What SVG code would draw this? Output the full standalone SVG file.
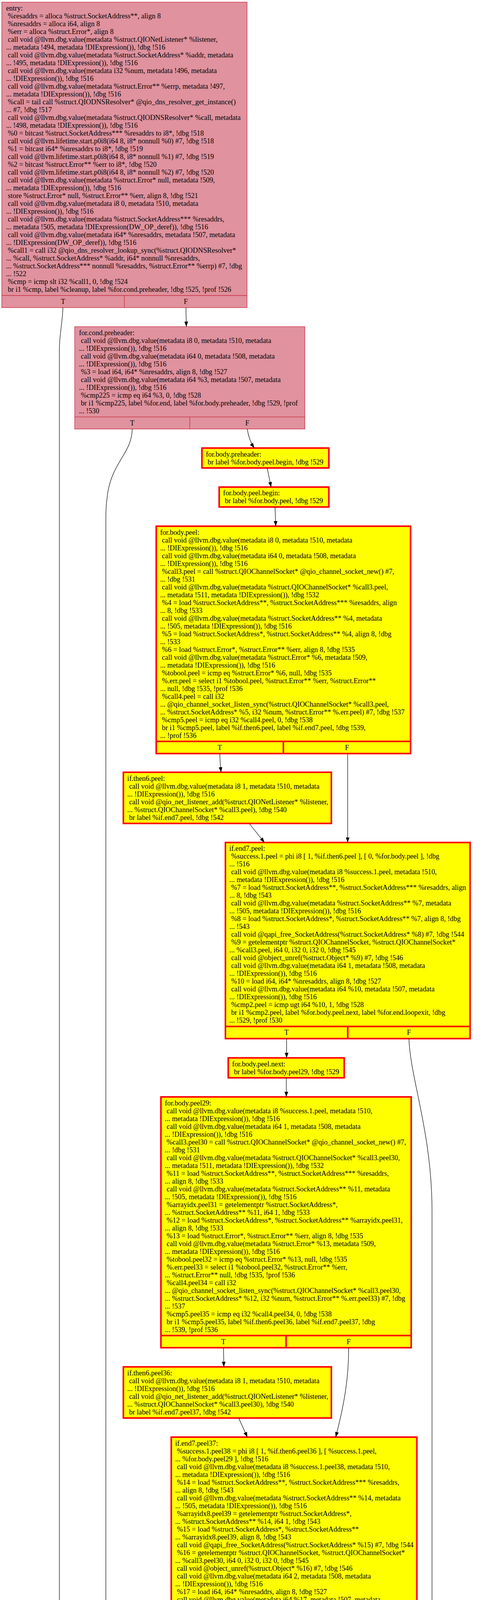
<svg xmlns="http://www.w3.org/2000/svg" width="1257" height="7149" viewBox="0 0 1257 7149">
<defs>
<style>
.t{font-family:"Liberation Serif","Times New Roman",serif;font-size:18.3px;fill:#000}
.c{text-anchor:middle}
.pk{fill:#e0929e;stroke:#c8283e;stroke-width:1.3}
.yl{fill:#ffff00;stroke:#ff0000;stroke-width:4}
.wh{fill:#ffffff;stroke:#ff0000;stroke-width:4}
.pl{stroke:#c8283e;stroke-width:1.3;fill:none}
.yln{stroke:#ff0000;stroke-width:4;fill:none}
.e{fill:none;stroke:#000;stroke-width:1.2;marker-end:url(#ah)}
</style>
<marker id="ah" markerUnits="userSpaceOnUse" markerWidth="14" markerHeight="10" refX="13" refY="4.75" orient="auto" viewBox="0 0 14 9.5"><path d="M0,0 L13,4.75 L0,9.5 z" fill="#000"/></marker>
</defs>
<rect x="0" y="0" width="1257" height="7149" fill="#ffffff"/>

<g id="node-entry">
<rect class="pk" x="4.5" y="5.5" width="628" height="782"/>
<path class="pl" d="M4.5,756.5 H632.5 M318.5,756.5 V787.5"/>
<text class="t">
<tspan x="15.5" y="27">entry:</tspan>
<tspan x="20.1" y="47">%resaddrs = alloca %struct.SocketAddress**, align 8</tspan>
<tspan x="20.1" y="67">%nresaddrs = alloca i64, align 8</tspan>
<tspan x="20.1" y="87">%err = alloca %struct.Error*, align 8</tspan>
<tspan x="20.1" y="107">call void @llvm.dbg.value(metadata %struct.QIONetListener* %listener,</tspan>
<tspan x="15.5" y="127">... metadata !494, metadata !DIExpression()), !dbg !516</tspan>
<tspan x="20.1" y="147">call void @llvm.dbg.value(metadata %struct.SocketAddress* %addr, metadata</tspan>
<tspan x="15.5" y="167">... !495, metadata !DIExpression()), !dbg !516</tspan>
<tspan x="20.1" y="187">call void @llvm.dbg.value(metadata i32 %num, metadata !496, metadata</tspan>
<tspan x="15.5" y="207">... !DIExpression()), !dbg !516</tspan>
<tspan x="20.1" y="227">call void @llvm.dbg.value(metadata %struct.Error** %errp, metadata !497,</tspan>
<tspan x="15.5" y="247">... metadata !DIExpression()), !dbg !516</tspan>
<tspan x="20.1" y="267">%call = tail call %struct.QIODNSResolver* @qio_dns_resolver_get_instance()</tspan>
<tspan x="15.5" y="287">... #7, !dbg !517</tspan>
<tspan x="20.1" y="307">call void @llvm.dbg.value(metadata %struct.QIODNSResolver* %call, metadata</tspan>
<tspan x="15.5" y="327">... !498, metadata !DIExpression()), !dbg !516</tspan>
<tspan x="20.1" y="347">%0 = bitcast %struct.SocketAddress*** %resaddrs to i8*, !dbg !518</tspan>
<tspan x="20.1" y="367">call void @llvm.lifetime.start.p0i8(i64 8, i8* nonnull %0) #7, !dbg !518</tspan>
<tspan x="20.1" y="387">%1 = bitcast i64* %nresaddrs to i8*, !dbg !519</tspan>
<tspan x="20.1" y="407">call void @llvm.lifetime.start.p0i8(i64 8, i8* nonnull %1) #7, !dbg !519</tspan>
<tspan x="20.1" y="427">%2 = bitcast %struct.Error** %err to i8*, !dbg !520</tspan>
<tspan x="20.1" y="447">call void @llvm.lifetime.start.p0i8(i64 8, i8* nonnull %2) #7, !dbg !520</tspan>
<tspan x="20.1" y="467">call void @llvm.dbg.value(metadata %struct.Error* null, metadata !509,</tspan>
<tspan x="15.5" y="487">... metadata !DIExpression()), !dbg !516</tspan>
<tspan x="20.1" y="507">store %struct.Error* null, %struct.Error** %err, align 8, !dbg !521</tspan>
<tspan x="20.1" y="527">call void @llvm.dbg.value(metadata i8 0, metadata !510, metadata</tspan>
<tspan x="15.5" y="547">... !DIExpression()), !dbg !516</tspan>
<tspan x="20.1" y="567">call void @llvm.dbg.value(metadata %struct.SocketAddress*** %resaddrs,</tspan>
<tspan x="15.5" y="587">... metadata !505, metadata !DIExpression(DW_OP_deref)), !dbg !516</tspan>
<tspan x="20.1" y="607">call void @llvm.dbg.value(metadata i64* %nresaddrs, metadata !507, metadata</tspan>
<tspan x="15.5" y="627">... !DIExpression(DW_OP_deref)), !dbg !516</tspan>
<tspan x="20.1" y="647">%call1 = call i32 @qio_dns_resolver_lookup_sync(%struct.QIODNSResolver*</tspan>
<tspan x="15.5" y="667">... %call, %struct.SocketAddress* %addr, i64* nonnull %nresaddrs,</tspan>
<tspan x="15.5" y="687">... %struct.SocketAddress*** nonnull %resaddrs, %struct.Error** %errp) #7, !dbg</tspan>
<tspan x="15.5" y="707">... !522</tspan>
<tspan x="20.1" y="727">%cmp = icmp slt i32 %call1, 0, !dbg !524</tspan>
<tspan x="20.1" y="747">br i1 %cmp, label %cleanup, label %for.cond.preheader, !dbg !525, !prof !526</tspan>
</text>
<text class="t c" x="161.5" y="778">T</text>
<text class="t c" x="475.5" y="778">F</text>
</g>

<g id="node-for.cond.preheader">
<rect class="pk" x="191.3" y="836.3" width="589.1" height="262"/>
<path class="pl" d="M191.3,1067.3 H780.4 M485.9,1067.3 V1098.3"/>
<text class="t">
<tspan x="202.3" y="857.8">for.cond.preheader:</tspan>
<tspan x="206.9" y="877.8">call void @llvm.dbg.value(metadata i8 0, metadata !510, metadata</tspan>
<tspan x="202.3" y="897.8">... !DIExpression()), !dbg !516</tspan>
<tspan x="206.9" y="917.8">call void @llvm.dbg.value(metadata i64 0, metadata !508, metadata</tspan>
<tspan x="202.3" y="937.8">... !DIExpression()), !dbg !516</tspan>
<tspan x="206.9" y="957.8">%3 = load i64, i64* %nresaddrs, align 8, !dbg !527</tspan>
<tspan x="206.9" y="977.8">call void @llvm.dbg.value(metadata i64 %3, metadata !507, metadata</tspan>
<tspan x="202.3" y="997.8">... !DIExpression()), !dbg !516</tspan>
<tspan x="206.9" y="1017.8">%cmp225 = icmp eq i64 %3, 0, !dbg !528</tspan>
<tspan x="206.9" y="1037.8">br i1 %cmp225, label %for.end, label %for.body.preheader, !dbg !529, !prof</tspan>
<tspan x="202.3" y="1057.8">... !530</tspan>
</text>
<text class="t c" x="338.6" y="1088.8">T</text>
<text class="t c" x="633.2" y="1088.8">F</text>
</g>

<g id="node-for.body.preheader">
<rect class="yl" x="517" y="1147" width="324.9" height="51"/>
<text class="t">
<tspan x="527" y="1168.5">for.body.preheader:</tspan>
<tspan x="531.6" y="1188.5">br label %for.body.peel.begin, !dbg !529</tspan>
</text>
</g>

<g id="node-for.body.peel.begin">
<rect class="yl" x="561.1" y="1246.9" width="280.8" height="51"/>
<text class="t">
<tspan x="571.1" y="1268.4">for.body.peel.begin:</tspan>
<tspan x="575.7" y="1288.4">br label %for.body.peel, !dbg !529</tspan>
</text>
</g>

<g id="node-for.body.peel">
<rect class="yl" x="399.9" y="1347.1" width="651.2" height="582"/>
<path class="yln" d="M399.9,1898.1 H1051.1 M725.5,1898.1 V1929.1"/>
<text class="t">
<tspan x="409.9" y="1368.6">for.body.peel:</tspan>
<tspan x="414.5" y="1388.6">call void @llvm.dbg.value(metadata i8 0, metadata !510, metadata</tspan>
<tspan x="409.9" y="1408.6">... !DIExpression()), !dbg !516</tspan>
<tspan x="414.5" y="1428.6">call void @llvm.dbg.value(metadata i64 0, metadata !508, metadata</tspan>
<tspan x="409.9" y="1448.6">... !DIExpression()), !dbg !516</tspan>
<tspan x="414.5" y="1468.6">%call3.peel = call %struct.QIOChannelSocket* @qio_channel_socket_new() #7,</tspan>
<tspan x="409.9" y="1488.6">... !dbg !531</tspan>
<tspan x="414.5" y="1508.6">call void @llvm.dbg.value(metadata %struct.QIOChannelSocket* %call3.peel,</tspan>
<tspan x="409.9" y="1528.6">... metadata !511, metadata !DIExpression()), !dbg !532</tspan>
<tspan x="414.5" y="1548.6">%4 = load %struct.SocketAddress**, %struct.SocketAddress*** %resaddrs, align</tspan>
<tspan x="409.9" y="1568.6">... 8, !dbg !533</tspan>
<tspan x="414.5" y="1588.6">call void @llvm.dbg.value(metadata %struct.SocketAddress** %4, metadata</tspan>
<tspan x="409.9" y="1608.6">... !505, metadata !DIExpression()), !dbg !516</tspan>
<tspan x="414.5" y="1628.6">%5 = load %struct.SocketAddress*, %struct.SocketAddress** %4, align 8, !dbg</tspan>
<tspan x="409.9" y="1648.6">... !533</tspan>
<tspan x="414.5" y="1668.6">%6 = load %struct.Error*, %struct.Error** %err, align 8, !dbg !535</tspan>
<tspan x="414.5" y="1688.6">call void @llvm.dbg.value(metadata %struct.Error* %6, metadata !509,</tspan>
<tspan x="409.9" y="1708.6">... metadata !DIExpression()), !dbg !516</tspan>
<tspan x="414.5" y="1728.6">%tobool.peel = icmp eq %struct.Error* %6, null, !dbg !535</tspan>
<tspan x="414.5" y="1748.6">%.err.peel = select i1 %tobool.peel, %struct.Error** %err, %struct.Error**</tspan>
<tspan x="409.9" y="1768.6">... null, !dbg !535, !prof !536</tspan>
<tspan x="414.5" y="1788.6">%call4.peel = call i32</tspan>
<tspan x="409.9" y="1808.6">... @qio_channel_socket_listen_sync(%struct.QIOChannelSocket* %call3.peel,</tspan>
<tspan x="409.9" y="1828.6">... %struct.SocketAddress* %5, i32 %num, %struct.Error** %.err.peel) #7, !dbg !537</tspan>
<tspan x="414.5" y="1848.6">%cmp5.peel = icmp eq i32 %call4.peel, 0, !dbg !538</tspan>
<tspan x="414.5" y="1868.6">br i1 %cmp5.peel, label %if.then6.peel, label %if.end7.peel, !dbg !539,</tspan>
<tspan x="409.9" y="1888.6">... !prof !536</tspan>
</text>
<text class="t c" x="562.7" y="1919.6">T</text>
<text class="t c" x="888.3" y="1919.6">F</text>
</g>

<g id="node-if.then6.peel">
<rect class="yl" x="315.8" y="1977" width="532.5" height="131"/>
<text class="t">
<tspan x="325.8" y="1998.5">if.then6.peel:</tspan>
<tspan x="330.4" y="2018.5">call void @llvm.dbg.value(metadata i8 1, metadata !510, metadata</tspan>
<tspan x="325.8" y="2038.5">... !DIExpression()), !dbg !516</tspan>
<tspan x="330.4" y="2058.5">call void @qio_net_listener_add(%struct.QIONetListener* %listener,</tspan>
<tspan x="325.8" y="2078.5">... %struct.QIOChannelSocket* %call3.peel), !dbg !540</tspan>
<tspan x="330.4" y="2098.5">br label %if.end7.peel, !dbg !542</tspan>
</text>
</g>

<g id="node-if.end7.peel">
<rect class="yl" x="577.1" y="2156.8" width="626.4" height="502"/>
<path class="yln" d="M577.1,2627.8 H1203.5 M890.3,2627.8 V2658.8"/>
<text class="t">
<tspan x="587.1" y="2178.3">if.end7.peel:</tspan>
<tspan x="591.7" y="2198.3">%success.1.peel = phi i8 [ 1, %if.then6.peel ], [ 0, %for.body.peel ], !dbg</tspan>
<tspan x="587.1" y="2218.3">... !516</tspan>
<tspan x="591.7" y="2238.3">call void @llvm.dbg.value(metadata i8 %success.1.peel, metadata !510,</tspan>
<tspan x="587.1" y="2258.3">... metadata !DIExpression()), !dbg !516</tspan>
<tspan x="591.7" y="2278.3">%7 = load %struct.SocketAddress**, %struct.SocketAddress*** %resaddrs, align</tspan>
<tspan x="587.1" y="2298.3">... 8, !dbg !543</tspan>
<tspan x="591.7" y="2318.3">call void @llvm.dbg.value(metadata %struct.SocketAddress** %7, metadata</tspan>
<tspan x="587.1" y="2338.3">... !505, metadata !DIExpression()), !dbg !516</tspan>
<tspan x="591.7" y="2358.3">%8 = load %struct.SocketAddress*, %struct.SocketAddress** %7, align 8, !dbg</tspan>
<tspan x="587.1" y="2378.3">... !543</tspan>
<tspan x="591.7" y="2398.3">call void @qapi_free_SocketAddress(%struct.SocketAddress* %8) #7, !dbg !544</tspan>
<tspan x="591.7" y="2418.3">%9 = getelementptr %struct.QIOChannelSocket, %struct.QIOChannelSocket*</tspan>
<tspan x="587.1" y="2438.3">... %call3.peel, i64 0, i32 0, i32 0, !dbg !545</tspan>
<tspan x="591.7" y="2458.3">call void @object_unref(%struct.Object* %9) #7, !dbg !546</tspan>
<tspan x="591.7" y="2478.3">call void @llvm.dbg.value(metadata i64 1, metadata !508, metadata</tspan>
<tspan x="587.1" y="2498.3">... !DIExpression()), !dbg !516</tspan>
<tspan x="591.7" y="2518.3">%10 = load i64, i64* %nresaddrs, align 8, !dbg !527</tspan>
<tspan x="591.7" y="2538.3">call void @llvm.dbg.value(metadata i64 %10, metadata !507, metadata</tspan>
<tspan x="587.1" y="2558.3">... !DIExpression()), !dbg !516</tspan>
<tspan x="591.7" y="2578.3">%cmp2.peel = icmp ugt i64 %10, 1, !dbg !528</tspan>
<tspan x="591.7" y="2598.3">br i1 %cmp2.peel, label %for.body.peel.next, label %for.end.loopexit, !dbg</tspan>
<tspan x="587.1" y="2618.3">... !529, !prof !530</tspan>
</text>
<text class="t c" x="733.7" y="2649.3">T</text>
<text class="t c" x="1046.9" y="2649.3">F</text>
</g>

<g id="node-for.body.peel.next">
<rect class="yl" x="584.3" y="2708.2" width="296.9" height="51"/>
<text class="t">
<tspan x="594.3" y="2729.7">for.body.peel.next:</tspan>
<tspan x="598.9" y="2749.7">br label %for.body.peel29, !dbg !529</tspan>
</text>
</g>

<g id="node-for.body.peel29">
<rect class="yl" x="412" y="2808.1" width="640.7" height="642"/>
<path class="yln" d="M412,3419.1 H1052.7 M732.4,3419.1 V3450.1"/>
<text class="t">
<tspan x="422" y="2829.6">for.body.peel29:</tspan>
<tspan x="426.6" y="2849.6">call void @llvm.dbg.value(metadata i8 %success.1.peel, metadata !510,</tspan>
<tspan x="422" y="2869.6">... metadata !DIExpression()), !dbg !516</tspan>
<tspan x="426.6" y="2889.6">call void @llvm.dbg.value(metadata i64 1, metadata !508, metadata</tspan>
<tspan x="422" y="2909.6">... !DIExpression()), !dbg !516</tspan>
<tspan x="426.6" y="2929.6">%call3.peel30 = call %struct.QIOChannelSocket* @qio_channel_socket_new() #7,</tspan>
<tspan x="422" y="2949.6">... !dbg !531</tspan>
<tspan x="426.6" y="2969.6">call void @llvm.dbg.value(metadata %struct.QIOChannelSocket* %call3.peel30,</tspan>
<tspan x="422" y="2989.6">... metadata !511, metadata !DIExpression()), !dbg !532</tspan>
<tspan x="426.6" y="3009.6">%11 = load %struct.SocketAddress**, %struct.SocketAddress*** %resaddrs,</tspan>
<tspan x="422" y="3029.6">... align 8, !dbg !533</tspan>
<tspan x="426.6" y="3049.6">call void @llvm.dbg.value(metadata %struct.SocketAddress** %11, metadata</tspan>
<tspan x="422" y="3069.6">... !505, metadata !DIExpression()), !dbg !516</tspan>
<tspan x="426.6" y="3089.6">%arrayidx.peel31 = getelementptr %struct.SocketAddress*,</tspan>
<tspan x="422" y="3109.6">... %struct.SocketAddress** %11, i64 1, !dbg !533</tspan>
<tspan x="426.6" y="3129.6">%12 = load %struct.SocketAddress*, %struct.SocketAddress** %arrayidx.peel31,</tspan>
<tspan x="422" y="3149.6">... align 8, !dbg !533</tspan>
<tspan x="426.6" y="3169.6">%13 = load %struct.Error*, %struct.Error** %err, align 8, !dbg !535</tspan>
<tspan x="426.6" y="3189.6">call void @llvm.dbg.value(metadata %struct.Error* %13, metadata !509,</tspan>
<tspan x="422" y="3209.6">... metadata !DIExpression()), !dbg !516</tspan>
<tspan x="426.6" y="3229.6">%tobool.peel32 = icmp eq %struct.Error* %13, null, !dbg !535</tspan>
<tspan x="426.6" y="3249.6">%.err.peel33 = select i1 %tobool.peel32, %struct.Error** %err,</tspan>
<tspan x="422" y="3269.6">... %struct.Error** null, !dbg !535, !prof !536</tspan>
<tspan x="426.6" y="3289.6">%call4.peel34 = call i32</tspan>
<tspan x="422" y="3309.6">... @qio_channel_socket_listen_sync(%struct.QIOChannelSocket* %call3.peel30,</tspan>
<tspan x="422" y="3329.6">... %struct.SocketAddress* %12, i32 %num, %struct.Error** %.err.peel33) #7, !dbg</tspan>
<tspan x="422" y="3349.6">... !537</tspan>
<tspan x="426.6" y="3369.6">%cmp5.peel35 = icmp eq i32 %call4.peel34, 0, !dbg !538</tspan>
<tspan x="426.6" y="3389.6">br i1 %cmp5.peel35, label %if.then6.peel36, label %if.end7.peel37, !dbg</tspan>
<tspan x="422" y="3409.6">... !539, !prof !536</tspan>
</text>
<text class="t c" x="572.2" y="3440.6">T</text>
<text class="t c" x="892.5" y="3440.6">F</text>
</g>

<g id="node-if.then6.peel36">
<rect class="yl" x="315.8" y="3499.2" width="532.5" height="131"/>
<text class="t">
<tspan x="325.8" y="3520.7">if.then6.peel36:</tspan>
<tspan x="330.4" y="3540.7">call void @llvm.dbg.value(metadata i8 1, metadata !510, metadata</tspan>
<tspan x="325.8" y="3560.7">... !DIExpression()), !dbg !516</tspan>
<tspan x="330.4" y="3580.7">call void @qio_net_listener_add(%struct.QIONetListener* %listener,</tspan>
<tspan x="325.8" y="3600.7">... %struct.QIOChannelSocket* %call3.peel30), !dbg !540</tspan>
<tspan x="330.4" y="3620.7">br label %if.end7.peel37, !dbg !542</tspan>
</text>
</g>

<g id="node-if.end7.peel37">
<rect class="yl" x="438.4" y="3679" width="628.8" height="542"/>
<path class="yln" d="M438.4,4190 H1067.2 M752.8,4190 V4221"/>
<text class="t">
<tspan x="448.4" y="3700.5">if.end7.peel37:</tspan>
<tspan x="453" y="3720.5">%success.1.peel38 = phi i8 [ 1, %if.then6.peel36 ], [ %success.1.peel,</tspan>
<tspan x="448.4" y="3740.5">... %for.body.peel29 ], !dbg !516</tspan>
<tspan x="453" y="3760.5">call void @llvm.dbg.value(metadata i8 %success.1.peel38, metadata !510,</tspan>
<tspan x="448.4" y="3780.5">... metadata !DIExpression()), !dbg !516</tspan>
<tspan x="453" y="3800.5">%14 = load %struct.SocketAddress**, %struct.SocketAddress*** %resaddrs,</tspan>
<tspan x="448.4" y="3820.5">... align 8, !dbg !543</tspan>
<tspan x="453" y="3840.5">call void @llvm.dbg.value(metadata %struct.SocketAddress** %14, metadata</tspan>
<tspan x="448.4" y="3860.5">... !505, metadata !DIExpression()), !dbg !516</tspan>
<tspan x="453" y="3880.5">%arrayidx8.peel39 = getelementptr %struct.SocketAddress*,</tspan>
<tspan x="448.4" y="3900.5">... %struct.SocketAddress** %14, i64 1, !dbg !543</tspan>
<tspan x="453" y="3920.5">%15 = load %struct.SocketAddress*, %struct.SocketAddress**</tspan>
<tspan x="448.4" y="3940.5">... %arrayidx8.peel39, align 8, !dbg !543</tspan>
<tspan x="453" y="3960.5">call void @qapi_free_SocketAddress(%struct.SocketAddress* %15) #7, !dbg !544</tspan>
<tspan x="453" y="3980.5">%16 = getelementptr %struct.QIOChannelSocket, %struct.QIOChannelSocket*</tspan>
<tspan x="448.4" y="4000.5">... %call3.peel30, i64 0, i32 0, i32 0, !dbg !545</tspan>
<tspan x="453" y="4020.5">call void @object_unref(%struct.Object* %16) #7, !dbg !546</tspan>
<tspan x="453" y="4040.5">call void @llvm.dbg.value(metadata i64 2, metadata !508, metadata</tspan>
<tspan x="448.4" y="4060.5">... !DIExpression()), !dbg !516</tspan>
<tspan x="453" y="4080.5">%17 = load i64, i64* %nresaddrs, align 8, !dbg !527</tspan>
<tspan x="453" y="4100.5">call void @llvm.dbg.value(metadata i64 %17, metadata !507, metadata</tspan>
<tspan x="448.4" y="4120.5">... !DIExpression()), !dbg !516</tspan>
<tspan x="453" y="4140.5">%cmp2.peel41 = icmp ugt i64 %17, 2, !dbg !528</tspan>
<tspan x="453" y="4160.5">br i1 %cmp2.peel41, label %for.body.peel.next28, label %for.end.loopexit,</tspan>
<tspan x="448.4" y="4180.5">... !dbg !529, !prof !530</tspan>
</text>
<text class="t c" x="595.6" y="4211.5">T</text>
<text class="t c" x="910" y="4211.5">F</text>
</g>

<g id="node-for.body.peel.next28">
<rect class="yl" x="456.1" y="4269.1" width="332.9" height="51"/>
<text class="t">
<tspan x="466.1" y="4290.6">for.body.peel.next28:</tspan>
<tspan x="470.7" y="4310.6">br label %for.body.peel.next42, !dbg !529</tspan>
</text>
</g>

<g id="node-for.body.peel.next42">
<rect class="yl" x="424" y="4369.7" width="409.1" height="51"/>
<text class="t">
<tspan x="434" y="4391.2">for.body.peel.next42:</tspan>
<tspan x="438.6" y="4411.2">br label %for.body.preheader.peel.newph, !dbg !529</tspan>
</text>
</g>

<g id="node-for.body.preheader.peel.newph">
<rect class="yl" x="517.8" y="4469.6" width="255.9" height="51"/>
<text class="t">
<tspan x="527.8" y="4491.1">for.body.preheader.peel.newph:</tspan>
<tspan x="532.4" y="4511.1">br label %for.body, !dbg !529</tspan>
</text>
</g>

<g id="node-for.body">
<rect class="yl" x="339" y="4569.1" width="648.8" height="662"/>
<path class="yln" d="M339,5200.1 H987.8 M663.4,5200.1 V5231.1"/>
<text class="t">
<tspan x="349" y="4590.6">for.body:</tspan>
<tspan x="353.6" y="4610.6">%success.027 = phi i8 [ %success.1, %if.end7 ], [ %success.1.peel38,</tspan>
<tspan x="349" y="4630.6">... %for.body.preheader.peel.newph ]</tspan>
<tspan x="353.6" y="4650.6">%i.026 = phi i64 [ %inc, %if.end7 ], [ 2, %for.body.preheader.peel.newph ]</tspan>
<tspan x="353.6" y="4670.6">call void @llvm.dbg.value(metadata i8 %success.027, metadata !510, metadata</tspan>
<tspan x="349" y="4690.6">... !DIExpression()), !dbg !516</tspan>
<tspan x="353.6" y="4710.6">call void @llvm.dbg.value(metadata i64 %i.026, metadata !508, metadata</tspan>
<tspan x="349" y="4730.6">... !DIExpression()), !dbg !516</tspan>
<tspan x="353.6" y="4750.6">%call3 = call %struct.QIOChannelSocket* @qio_channel_socket_new() #7, !dbg</tspan>
<tspan x="349" y="4770.6">... !531</tspan>
<tspan x="353.6" y="4790.6">call void @llvm.dbg.value(metadata %struct.QIOChannelSocket* %call3,</tspan>
<tspan x="349" y="4810.6">... metadata !511, metadata !DIExpression()), !dbg !532</tspan>
<tspan x="353.6" y="4830.6">%18 = load %struct.SocketAddress**, %struct.SocketAddress*** %resaddrs,</tspan>
<tspan x="349" y="4850.6">... align 8, !dbg !533</tspan>
<tspan x="353.6" y="4870.6">call void @llvm.dbg.value(metadata %struct.SocketAddress** %18, metadata</tspan>
<tspan x="349" y="4890.6">... !505, metadata !DIExpression()), !dbg !516</tspan>
<tspan x="353.6" y="4910.6">%arrayidx = getelementptr %struct.SocketAddress*, %struct.SocketAddress**</tspan>
<tspan x="349" y="4930.6">... %18, i64 %i.026, !dbg !533</tspan>
<tspan x="353.6" y="4950.6">%19 = load %struct.SocketAddress*, %struct.SocketAddress** %arrayidx, align</tspan>
<tspan x="349" y="4970.6">... 8, !dbg !533</tspan>
<tspan x="353.6" y="4990.6">%20 = load %struct.Error*, %struct.Error** %err, align 8, !dbg !535</tspan>
<tspan x="353.6" y="5010.6">call void @llvm.dbg.value(metadata %struct.Error* %20, metadata !509,</tspan>
<tspan x="349" y="5030.6">... metadata !DIExpression()), !dbg !516</tspan>
<tspan x="353.6" y="5050.6">%tobool = icmp eq %struct.Error* %20, null, !dbg !535</tspan>
<tspan x="353.6" y="5070.6">%.err = select i1 %tobool, %struct.Error** %err, %struct.Error** null, !dbg</tspan>
<tspan x="349" y="5090.6">... !535, !prof !536</tspan>
<tspan x="353.6" y="5110.6">%call4 = call i32 @qio_channel_socket_listen_sync(%struct.QIOChannelSocket*</tspan>
<tspan x="349" y="5130.6">... %call3, %struct.SocketAddress* %19, i32 %num, %struct.Error** %.err) #7, !dbg</tspan>
<tspan x="349" y="5150.6">... !537</tspan>
<tspan x="353.6" y="5170.6">%cmp5 = icmp eq i32 %call4, 0, !dbg !538</tspan>
<tspan x="353.6" y="5190.6">br i1 %cmp5, label %if.then6, label %if.end7, !dbg !539, !prof !536</tspan>
</text>
<text class="t c" x="501.2" y="5221.6">T</text>
<text class="t c" x="825.6" y="5221.6">F</text>
</g>

<g id="node-if.then6">
<rect class="yl" x="359.9" y="5280" width="531.7" height="131"/>
<text class="t">
<tspan x="369.9" y="5301.5">if.then6:</tspan>
<tspan x="374.5" y="5321.5">call void @llvm.dbg.value(metadata i8 1, metadata !510, metadata</tspan>
<tspan x="369.9" y="5341.5">... !DIExpression()), !dbg !516</tspan>
<tspan x="374.5" y="5361.5">call void @qio_net_listener_add(%struct.QIONetListener* %listener,</tspan>
<tspan x="369.9" y="5381.5">... %struct.QIOChannelSocket* %call3), !dbg !540</tspan>
<tspan x="374.5" y="5401.5">br label %if.end7, !dbg !542</tspan>
</text>
</g>

<g id="node-if.end7">
<rect class="yl" x="311.8" y="5459.9" width="627.9" height="542"/>
<path class="yln" d="M311.8,5970.9 H939.7 M625.8,5970.9 V6001.9"/>
<text class="t">
<tspan x="321.8" y="5481.4">if.end7:</tspan>
<tspan x="326.4" y="5501.4">%success.1 = phi i8 [ 1, %if.then6 ], [ %success.027, %for.body ], !dbg !516</tspan>
<tspan x="326.4" y="5521.4">call void @llvm.dbg.value(metadata i8 %success.1, metadata !510, metadata</tspan>
<tspan x="321.8" y="5541.4">... !DIExpression()), !dbg !516</tspan>
<tspan x="326.4" y="5561.4">%21 = load %struct.SocketAddress**, %struct.SocketAddress*** %resaddrs,</tspan>
<tspan x="321.8" y="5581.4">... align 8, !dbg !543</tspan>
<tspan x="326.4" y="5601.4">call void @llvm.dbg.value(metadata %struct.SocketAddress** %21, metadata</tspan>
<tspan x="321.8" y="5621.4">... !505, metadata !DIExpression()), !dbg !516</tspan>
<tspan x="326.4" y="5641.4">%arrayidx8 = getelementptr %struct.SocketAddress*, %struct.SocketAddress**</tspan>
<tspan x="321.8" y="5661.4">... %21, i64 %i.026, !dbg !543</tspan>
<tspan x="326.4" y="5681.4">%22 = load %struct.SocketAddress*, %struct.SocketAddress** %arrayidx8, align</tspan>
<tspan x="321.8" y="5701.4">... 8, !dbg !543</tspan>
<tspan x="326.4" y="5721.4">call void @qapi_free_SocketAddress(%struct.SocketAddress* %22) #7, !dbg !544</tspan>
<tspan x="326.4" y="5741.4">%23 = getelementptr %struct.QIOChannelSocket, %struct.QIOChannelSocket*</tspan>
<tspan x="321.8" y="5761.4">... %call3, i64 0, i32 0, i32 0, !dbg !545</tspan>
<tspan x="326.4" y="5781.4">call void @object_unref(%struct.Object* %23) #7, !dbg !546</tspan>
<tspan x="326.4" y="5801.4">%inc = add nuw i64 %i.026, 1, !dbg !547</tspan>
<tspan x="326.4" y="5821.4">call void @llvm.dbg.value(metadata i64 %inc, metadata !508, metadata</tspan>
<tspan x="321.8" y="5841.4">... !DIExpression()), !dbg !516</tspan>
<tspan x="326.4" y="5861.4">%24 = load i64, i64* %nresaddrs, align 8, !dbg !527</tspan>
<tspan x="326.4" y="5881.4">call void @llvm.dbg.value(metadata i64 %24, metadata !507, metadata</tspan>
<tspan x="321.8" y="5901.4">... !DIExpression()), !dbg !516</tspan>
<tspan x="326.4" y="5921.4">%cmp2 = icmp ult i64 %inc, %24, !dbg !528</tspan>
<tspan x="326.4" y="5941.4">br i1 %cmp2, label %for.body, label %for.end.loopexit.loopexit, !dbg !529,</tspan>
<tspan x="321.8" y="5961.4">... !prof !530, !llvm.loop !548</tspan>
</text>
<text class="t c" x="468.8" y="5992.4">T</text>
<text class="t c" x="782.7" y="5992.4">F</text>
</g>

<g id="node-for.end.loopexit.loopexit">
<rect class="yl" x="425.6" y="6051.5" width="577.4" height="111"/>
<text class="t">
<tspan x="435.6" y="6073">for.end.loopexit.loopexit:</tspan>
<tspan x="440.2" y="6093">%success.1.lcssa43 = phi i8 [ %success.1, %if.end7 ], !dbg !516</tspan>
<tspan x="440.2" y="6113">call void @llvm.dbg.value(metadata i8 %success.1.lcssa43, metadata !510,</tspan>
<tspan x="435.6" y="6133">... metadata !DIExpression()), !dbg !516</tspan>
<tspan x="440.2" y="6153">br label %for.end.loopexit, !dbg !552</tspan>
</text>
</g>

<g id="node-for.end.loopexit">
<rect class="yl" x="597.2" y="6211.4" width="559.8" height="151"/>
<text class="t">
<tspan x="607.2" y="6232.9">for.end.loopexit:</tspan>
<tspan x="611.8" y="6252.9">%success.1.lcssa = phi i8 [ %success.1.peel, %if.end7.peel ], [</tspan>
<tspan x="607.2" y="6272.9">... %success.1.peel38, %if.end7.peel37 ], [ %success.1.lcssa43,</tspan>
<tspan x="607.2" y="6292.9">... %for.end.loopexit.loopexit ], !dbg !516</tspan>
<tspan x="611.8" y="6312.9">call void @llvm.dbg.value(metadata i8 %success.1.lcssa, metadata !510,</tspan>
<tspan x="607.2" y="6332.9">... metadata !DIExpression()), !dbg !516</tspan>
<tspan x="611.8" y="6352.9">br label %for.end, !dbg !552</tspan>
</text>
</g>

<g id="node-for.end">
<rect class="pk" x="372.5" y="6410.4" width="605.9" height="362"/>
<path class="pl" d="M372.5,6741.4 H978.4 M675.5,6741.4 V6772.4"/>
<text class="t">
<tspan x="383.5" y="6431.9">for.end:</tspan>
<tspan x="388.1" y="6451.9">%success.0.lcssa = phi i8 [ 0, %for.cond.preheader ], [ %success.1.lcssa,</tspan>
<tspan x="383.5" y="6471.9">... %for.end.loopexit ], !dbg !516</tspan>
<tspan x="388.1" y="6491.9">call void @llvm.dbg.value(metadata i8 %success.0.lcssa, metadata !510,</tspan>
<tspan x="383.5" y="6511.9">... metadata !DIExpression()), !dbg !516</tspan>
<tspan x="388.1" y="6531.9">%25 = bitcast %struct.SocketAddress*** %resaddrs to i8**, !dbg !552</tspan>
<tspan x="388.1" y="6551.9">%26 = load i8*, i8** %25, align 8, !dbg !552</tspan>
<tspan x="388.1" y="6571.9">call void @llvm.dbg.value(metadata %struct.SocketAddress** undef, metadata</tspan>
<tspan x="383.5" y="6591.9">... !505, metadata !DIExpression()), !dbg !516</tspan>
<tspan x="388.1" y="6611.9">call void @g_free(i8* %26) #7, !dbg !553</tspan>
<tspan x="388.1" y="6631.9">%27 = and i8 %success.0.lcssa, 1, !dbg !554</tspan>
<tspan x="388.1" y="6651.9">%tobool9 = icmp eq i8 %27, 0, !dbg !554</tspan>
<tspan x="388.1" y="6671.9">%28 = load %struct.Error*, %struct.Error** %err, align 8, !dbg !556</tspan>
<tspan x="388.1" y="6691.9">call void @llvm.dbg.value(metadata %struct.Error* %28, metadata !509,</tspan>
<tspan x="383.5" y="6711.9">... metadata !DIExpression()), !dbg !516</tspan>
<tspan x="388.1" y="6731.9">br i1 %tobool9, label %if.else, label %if.then10, !dbg !557, !prof !526</tspan>
</text>
<text class="t c" x="524" y="6762.9">T</text>
<text class="t c" x="826.9" y="6762.9">F</text>
</g>

<g id="node-if.else">
<rect class="wh" x="192.3" y="6821.5" width="587.9" height="91"/>
<text class="t">
<tspan x="202.3" y="6843">if.else:</tspan>
<tspan x="206.9" y="6863">call void @error_propagate(%struct.Error** %errp, %struct.Error* %28) #7,</tspan>
<tspan x="202.3" y="6883">... !dbg !561</tspan>
<tspan x="206.9" y="6903">br label %cleanup, !dbg !563</tspan>
</text>
</g>

<g id="node-if.then10">
<rect class="pk" x="806.2" y="6831.3" width="445.6" height="71"/>
<text class="t">
<tspan x="817.2" y="6852.8">if.then10:</tspan>
<tspan x="821.8" y="6872.8">call void @error_free(%struct.Error* %28) #7, !dbg !558</tspan>
<tspan x="821.8" y="6892.8">br label %cleanup, !dbg !560</tspan>
</text>
</g>

<g id="node-cleanup">
<rect class="pk" x="211.3" y="6961.6" width="549.8" height="151"/>
<text class="t">
<tspan x="222.3" y="6983.1">cleanup:</tspan>
<tspan x="226.9" y="7003.1">%retval.0 = phi i32 [ 0, %if.then10 ], [ -1, %if.else ], [ -1, %entry ],</tspan>
<tspan x="222.3" y="7023.1">... !dbg !516</tspan>
<tspan x="226.9" y="7043.1">call void @llvm.lifetime.end.p0i8(i64 8, i8* nonnull %2) #7, !dbg !564</tspan>
<tspan x="226.9" y="7063.1">call void @llvm.lifetime.end.p0i8(i64 8, i8* nonnull %1) #7, !dbg !564</tspan>
<tspan x="226.9" y="7083.1">call void @llvm.lifetime.end.p0i8(i64 8, i8* nonnull %0) #7, !dbg !564</tspan>
<tspan x="226.9" y="7103.1">ret i32 %retval.0, !dbg !564</tspan>
</text>
</g>

<g id="edges">
<path class="e" d="M161,787.5 C160,830 152,850 152,900 L152,6560 C152,6680 128,6740 135,6820 C140,6880 190,6925 226,6961.6"/>
<path class="e" d="M476,787.5 L477,836.3"/>
<path class="e" d="M338.6,1098.3 C337,1160 290,1180 276,1260 C272,1290 271,1300 271,1330 L271,6050 C271,6170 330,6300 423,6410.4"/>
<path class="e" d="M633.2,1098.3 C636,1120 643,1135 651,1147"/>
<path class="e" d="M684,1198 L694,1246.9"/>
<path class="e" d="M704,1297.9 L706,1347.1"/>
<path class="e" d="M562.7,1929.1 C563,1945 564,1960 566,1977"/>
<path class="e" d="M890,1929.1 L890,2156.8"/>
<path class="e" d="M638,2108 L677,2156.8"/>
<path class="e" d="M733.7,2658.8 L733.7,2708.2"/>
<path class="e" d="M1046.9,2658.8 C1050,2760 1106,2900 1106,3100 L1106,5600 C1112,5800 1114,5900 1114,6000 C1114,6080 1060,6150 1018,6211.4"/>
<path class="e" d="M733,2759.2 L733,2808.1"/>
<path class="e" d="M572.2,3450.1 L573,3499.2"/>
<path class="e" d="M892.5,3450.1 C893,3530 880,3600 859.4,3679"/>
<path class="e" d="M611,3630.2 L633.3,3679"/>
<path class="e" d="M595.6,4221 C596,4240 600,4255 607,4269.1"/>
<path class="e" d="M1067.2,4205.5 C1072,4260 1041,4330 1041,4420 L1041,5600 C1041,5800 1061,5900 1061,6000 C1061,6090 1020,6150 982,6211.4"/>
<path class="e" d="M624,4320.1 L626,4369.7"/>
<path class="e" d="M633.3,4420.7 L639.8,4469.6"/>
<path class="e" d="M647,4520.6 L648.6,4569.1"/>
<path class="e" d="M501.2,5231.1 C501,5250 505,5265 513,5280"/>
<path class="e" d="M987.8,5215.6 C1010,5215 1016,5240 1013,5270 C1005,5330 900,5420 874,5459.9"/>
<path class="e" d="M626,5411 L626,5459.9"/>
<path class="e" d="M311.8,5988 C300,5900 290,5700 295,5550 C300,5420 330,5300 370,5231.1"/>
<path class="e" d="M782.7,6001.9 C783,6020 778,6035 770,6051.5"/>
<path class="e" d="M765.6,6162.5 L805.7,6211.4"/>
<path class="e" d="M825.7,6362.4 L797.7,6410.4"/>
<path class="e" d="M524,6772.4 C523,6795 518,6805 513,6821.5"/>
<path class="e" d="M978.4,6757 C1005,6760 1020,6780 1026,6831.3"/>
<path class="e" d="M485,6912.5 L485,6961.6"/>
<path class="e" d="M914,6902.3 L733.6,6961.6"/>
</g>

<text class="t c" x="628" y="7134.6">CFG for 'qio_net_listener_open_sync' function</text>
</svg>
